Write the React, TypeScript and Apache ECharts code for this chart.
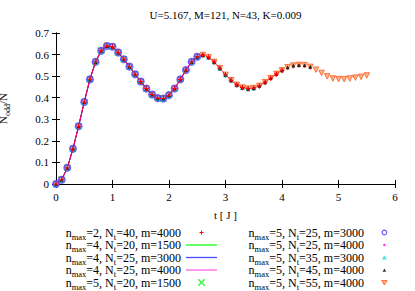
import React, { useEffect, useRef } from 'react';
import * as echarts from 'echarts';

const tValues = [
  0, 0.1, 0.2, 0.3, 0.4, 0.5, 0.6, 0.7, 0.8, 0.9,
  1.0, 1.1, 1.2, 1.3, 1.4, 1.5, 1.6, 1.7, 1.8, 1.9,
  2.0, 2.1, 2.2, 2.3, 2.4, 2.5, 2.6, 2.7, 2.8, 2.9,
  3.0, 3.1, 3.2, 3.3, 3.4, 3.5, 3.6, 3.7, 3.8, 3.9,
  4.0, 4.1, 4.2, 4.3, 4.4, 4.5, 4.6, 4.7, 4.8, 4.9,
  5.0, 5.1, 5.2, 5.3, 5.4, 5.5,
];
const nOddValues = [
  0, 0.02, 0.075, 0.163, 0.268, 0.38, 0.485, 0.566, 0.618, 0.64,
  0.636, 0.61, 0.578, 0.544, 0.509, 0.475, 0.442, 0.415, 0.398, 0.396,
  0.412, 0.443, 0.485, 0.528, 0.566, 0.59, 0.598, 0.588, 0.566, 0.537,
  0.506, 0.481, 0.46, 0.447, 0.442, 0.445, 0.455, 0.472, 0.491, 0.51,
  0.527, 0.541, 0.549, 0.552, 0.551, 0.543, 0.53, 0.515, 0.499, 0.489,
  0.486, 0.486, 0.489, 0.493, 0.497, 0.503,
];
const nmaxList = [2, 4, 4, 4, 5, 5, 5, 5, 5, 5];
const ntList = [40, 20, 25, 25, 20, 25, 25, 35, 45, 55];
const mList = [4000, 1500, 3000, 4000, 1500, 3000, 4000, 3000, 4000, 4000];
const xTicks = [0, 1, 2, 3, 4, 5, 6];
const yTicks = [0, 0.1, 0.2, 0.3, 0.4, 0.5, 0.6, 0.7];

const FONT = '"Liberation Serif", "DejaVu Serif", serif';
const PLUS = 'path://M0,5L10,5M5,0L5,10';
const CROSS = 'path://M0,0L10,10M10,0L0,10';
const UP_TRI = 'path://M5,0L10,9L0,9Z';
const DOWN_TRI = 'path://M0,0L10,0L5,9Z';
// legend icons drawn in a 31x7 frame (the legend item box), marker centred at 15.5,3.5
const BOX = 'M0,0M31,7';
const L_PLUS = `path://${BOX}M13.5,3.5L17.5,3.5M15.5,1.5L15.5,5.5`;
const L_CROSS = `path://${BOX}M12.3,0.3L18.7,6.7M18.7,0.3L12.3,6.7`;
const L_RING = `path://${BOX}M15.5,1.2A2.3,2.3,0,1,1,15.5,5.8A2.3,2.3,0,1,1,15.5,1.2Z`;
const L_DOT = `path://${BOX}M15.5,2.3A1.2,1.2,0,1,1,15.5,4.7A1.2,1.2,0,1,1,15.5,2.3Z`;
const L_TRI = `path://${BOX}M15.5,1.3L18,5.5L13,5.5Z`;
const L_TRI_S = `path://${BOX}M15.5,2L17.3,5.2L13.7,5.2Z`;
const L_DTRI = `path://${BOX}M12.8,1.5L18.2,1.5L15.5,6Z`;

const names = nmaxList.map((n, i) => `nmax=${n}, Nt=${ntList[i]}, m=${mList[i]}`);
const dataFor = (i: number) =>
  tValues.slice(0, ntList[i] + 1).map((t, k) => [t, nOddValues[k]]);

export default function App() {
  const ref = useRef<HTMLDivElement>(null);
  useEffect(() => {
    if (!ref.current) return;
    const chart = echarts.init(ref.current, undefined, { renderer: 'svg' });
    const sub = { fontSize: 8.5, fontFamily: FONT, color: '#000', padding: [8, 0, 0, 0], lineHeight: 11.5 };
    const fmt = (name: string) => name.replace('nmax', 'n{s|max}').replace('Nt', 'N{s|t}');
    const legendCommon = {
      orient: 'vertical',
      align: 'right',
      padding: 0,
      itemWidth: 31,
      itemHeight: 7,
      itemGap: -4.5,
      top: 224,
      height: 120,
      symbolKeepAspect: true,
      formatter: fmt,
      textStyle: { fontFamily: FONT, fontSize: 12, color: '#000', lineHeight: 11.5, rich: { s: sub } },
    };
    const axisCommon = {
      axisLine: { lineStyle: { color: '#000', width: 1 } },
      axisTick: { inside: true, length: 4, lineStyle: { color: '#000' } },
      splitLine: { show: false },
    };
    const zOrder = [9, 3, 4, 5, 6, 7, 5.5, 8, 8.5, 2];
    const series: any[] = [
      {
        type: 'line', symbol: PLUS, symbolSize: 5,
        lineStyle: { color: '#ff0000', width: 0.7 },
        itemStyle: { color: '#ff0000', borderColor: '#ff0000', borderWidth: 1 },
      },
      { type: 'line', symbol: 'none', lineStyle: { color: '#00ff00', width: 1 }, itemStyle: { color: '#00ff00' } },
      { type: 'line', symbol: 'none', lineStyle: { color: '#0000ff', width: 1 }, itemStyle: { color: '#0000ff' } },
      { type: 'line', symbol: 'none', lineStyle: { color: '#ff00ff', width: 1 }, itemStyle: { color: '#ff00ff' } },
      { type: 'scatter', symbol: CROSS, symbolSize: 6, itemStyle: { color: '#00ff00', borderColor: '#00ff00', borderWidth: 1 } },
      { type: 'scatter', symbol: 'emptyCircle', symbolSize: 6, itemStyle: { color: '#4040ff', borderColor: '#4040ff', borderWidth: 1 } },
      { type: 'scatter', symbol: 'circle', symbolSize: 3, itemStyle: { color: '#ff00ff', borderColor: '#ff00ff', borderWidth: 0 } },
      { type: 'scatter', symbol: UP_TRI, symbolSize: 5, itemStyle: { color: '#00e0e0', borderColor: '#00e0e0', borderWidth: 0 } },
      { type: 'scatter', symbol: UP_TRI, symbolSize: 4, itemStyle: { color: '#000000', borderColor: '#000000', borderWidth: 0 } },
      { type: 'scatter', symbol: DOWN_TRI, symbolSize: 5.5, itemStyle: { color: '#ffa070', borderColor: '#ff5a1a', borderWidth: 1 } },
    ].map((s, i) => ({ ...s, name: names[i], data: dataFor(i), z: zOrder[i] }));

    const clear = 'rgba(0,0,0,0)';
    const leftLegendData = [
      { name: names[0], icon: L_PLUS, itemStyle: { color: clear, borderColor: '#ff0000', borderWidth: 1 } },
      { name: names[1], itemStyle: { color: clear, borderColor: clear, borderWidth: 0 }, lineStyle: { color: '#66ff66', width: 2 } },
      { name: names[2], itemStyle: { color: clear, borderColor: clear, borderWidth: 0 }, lineStyle: { color: '#4a4aff', width: 1.3 } },
      { name: names[3], itemStyle: { color: clear, borderColor: clear, borderWidth: 0 }, lineStyle: { color: '#ff99ee', width: 2 } },
      { name: names[4], icon: L_CROSS, itemStyle: { color: clear, borderColor: '#00ee00', borderWidth: 1.3 } },
    ];
    const rightLegendData = [
      { name: names[5], icon: L_RING, itemStyle: { color: clear, borderColor: '#3333ff', borderWidth: 1.2 } },
      { name: names[6], icon: L_DOT, itemStyle: { color: '#ff00ff', borderColor: clear, borderWidth: 0 } },
      { name: names[7], icon: L_TRI, itemStyle: { color: '#22dddd', borderColor: clear, borderWidth: 0 } },
      { name: names[8], icon: L_TRI_S, itemStyle: { color: '#000000', borderColor: clear, borderWidth: 0 } },
      { name: names[9], icon: L_DTRI, itemStyle: { color: '#ffa070', borderColor: '#ff5a1a', borderWidth: 1 } },
    ];

    chart.setOption({
      animation: false,
      backgroundColor: '#fff',
      title: {
        text: 'U=5.167, M=121, N=43, K=0.009',
        left: 225.5, top: 9, textAlign: 'center', padding: 0,
        textStyle: { fontFamily: FONT, fontSize: 11, fontWeight: 'normal', color: '#000' },
      },
      grid: { left: 56, right: 20, top: 33, bottom: 107, outerBoundsMode: 'none', containLabel: false },
      legend: [
        { ...legendCommon, right: 197, data: leftLegendData },
        { ...legendCommon, right: 14.5, data: rightLegendData },
      ],
      xAxis: [
        {
          type: 'value', min: xTicks[0], max: xTicks[xTicks.length - 1], interval: 1,
          name: 't [ J ]', nameLocation: 'middle', nameGap: 25,
          nameTextStyle: { fontFamily: FONT, fontSize: 11, color: '#000' },
          axisLabel: { margin: 7, fontFamily: FONT, fontSize: 11, color: '#000' },
          ...axisCommon,
        },
        {
          type: 'value', position: 'top', min: xTicks[0], max: xTicks[xTicks.length - 1], interval: 1,
          axisLabel: { show: false }, ...axisCommon,
        },
      ],
      yAxis: [
        {
          type: 'value', min: yTicks[0], max: yTicks[yTicks.length - 1], interval: 0.1,
          name: 'N{s|odd}/N', nameLocation: 'middle', nameGap: 47, nameRotate: 90,
          nameMoveOverlap: false,
          nameTextStyle: { fontFamily: FONT, fontSize: 11, color: '#000', lineHeight: 12, rich: { s: { ...sub, fontSize: 8, lineHeight: 12 } } },
          axisLabel: { margin: 7, fontFamily: FONT, fontSize: 11, color: '#000' },
          ...axisCommon,
        },
        {
          type: 'value', position: 'right', min: yTicks[0], max: yTicks[yTicks.length - 1], interval: 0.1,
          axisLabel: { show: false }, ...axisCommon,
        },
      ],
      series,
    });
    return () => chart.dispose();
  }, []);
  return <div ref={ref} style={{ position: 'absolute', left: 0, top: 0, width: 415, height: 291 }} />;
}
